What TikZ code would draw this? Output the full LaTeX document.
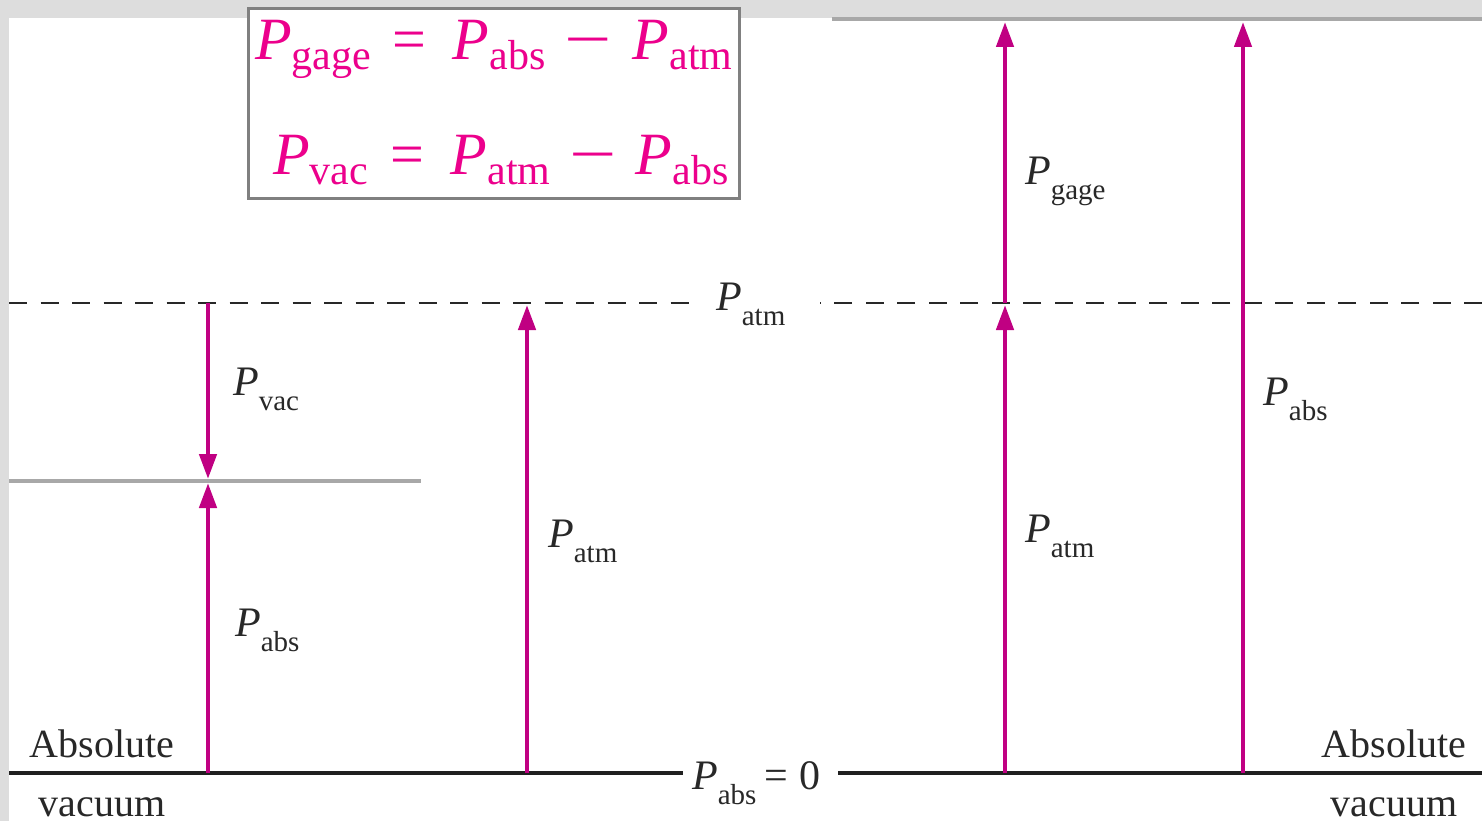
\documentclass[tikz,border=0pt]{standalone}
\usepackage{fontspec}
\setmainfont{LiberationSerif}[Extension=.ttf, UprightFont=*-Regular, ItalicFont=*-Italic, BoldFont=*-Bold, BoldItalicFont=*-BoldItalic]
\usetikzlibrary{arrows.meta}
\definecolor{arrowc}{RGB}{192,0,130}
\definecolor{pinkc}{RGB}{236,0,140}
\definecolor{bgc}{RGB}{221,221,221}
\definecolor{txtc}{RGB}{40,40,40}
\definecolor{boxc}{RGB}{128,128,128}
\definecolor{lvlc}{RGB}{168,168,168}
\newcommand{\labP}[1]{\fontsize{42}{42}\selectfont\textit{P}\raisebox{-15pt}{\fontsize{29}{29}\selectfont #1}}
\newcommand{\eqP}[1]{\textit{P}\raisebox{-10pt}{\fontsize{42}{42}\selectfont #1}}
\newcommand{\lminus}{\scalebox{1.4}[1]{−}}
\tikzset{
  parrow/.style={arrowc, line width=4.5pt, -{Triangle[length=25pt,width=17pt]}},
  lbl/.style={anchor=base west, inner sep=0pt, text=txtc},
  eqrow/.style={anchor=base west, inner sep=0pt, text=pinkc, font=\fontsize{60}{60}\selectfont},
  word/.style={anchor=base, inner sep=0pt, text=txtc, font=\fontsize{40}{40}\selectfont},
}
\begin{document}
\begin{tikzpicture}[x=1pt,y=-1pt]
\fill[bgc] (0,0) rectangle (1482,821);
\fill[white] (9,18) rectangle (1482,821);
\useasboundingbox (0,0) rectangle (1482,821);

% equation box
\node (eqbox) [draw=boxc, line width=3pt, fill=white, minimum width=491pt, minimum height=190pt, anchor=north west, inner sep=0pt] at (247,7) {};
\node (eq1) [eqrow] at (255,60) {\eqP{gage}\hspace{21pt}=\hspace{27pt}\eqP{abs}\hspace{19pt}\lminus\hspace{21pt}\eqP{atm}};
\node (eq2) [eqrow] at (273,175) {\eqP{vac}\hspace{22pt}=\hspace{27pt}\eqP{atm}\hspace{19pt}\lminus\hspace{19pt}\eqP{abs}};

% level lines
\coordinate (topL) at (832,19.5);
\coordinate (topR) at (1482,19.5);
\draw[lvlc, line width=4pt] (topL) -- (topR);
\coordinate (midL) at (9,481);
\coordinate (midR) at (421,481);
\draw[lvlc, line width=4pt] (midL) -- (midR);
\coordinate (atmA) at (9,303);
\coordinate (atmB) at (695,303);
\coordinate (atmC) at (820,303);
\coordinate (atmD) at (1482,303);
\draw[txtc, line width=2.5pt, dash pattern=on 18pt off 13.5pt] (atmA) -- (atmB);
\draw[txtc, line width=2.5pt, dash pattern=on 18pt off 13.5pt] (atmD) -- (atmC);
\coordinate (baseA) at (9,773);
\coordinate (baseB) at (683,773);
\coordinate (baseC) at (838,773);
\coordinate (baseD) at (1482,773);
\draw[txtc!80!black, line width=4.5pt] (baseA) -- (baseB);
\draw[txtc!80!black, line width=4.5pt] (baseC) -- (baseD);

% arrows
\coordinate (a1s) at (208,303);
\coordinate (a1e) at (208,479);
\coordinate (a2s) at (208,773);
\coordinate (a2e) at (208,483);
\coordinate (a3s) at (527,773);
\coordinate (a3e) at (527,305);
\coordinate (a4s) at (1005,773);
\coordinate (a4e) at (1005,305);
\coordinate (a5s) at (1005,303);
\coordinate (a5e) at (1005,22);
\coordinate (a6s) at (1243,773);
\coordinate (a6e) at (1243,22);
\draw[parrow] (a1s) -- (a1e);
\draw[parrow] (a2s) -- (a2e);
\draw[parrow] (a3s) -- (a3e);
\draw[parrow] (a4s) -- (a4e);
\draw[parrow] (a5s) -- (a5e);
\draw[parrow] (a6s) -- (a6e);

% labels
\node (lvac) [lbl] at (233,395) {\labP{vac}};
\node (labsL) [lbl] at (235,636) {\labP{abs}};
\node (latmM) [lbl] at (548,547) {\labP{atm}};
\node (latmD) [lbl] at (716,310) {\labP{atm}};
\node (lgage) [lbl] at (1025,185) {\labP{gage}};
\node (latmR) [lbl] at (1025,542) {\labP{atm}};
\node (labsR) [lbl] at (1263,405) {\labP{abs}};
\node (lzero) [lbl] at (692,789) {\labP{abs}\hspace{8pt}=\hspace{11pt}0};

\node (absL) [word] at (102,757) {Absolute};
\node (vacL) [word] at (102,816) {vacuum};
\node (absR) [word] at (1394,757) {Absolute};
\node (vacR) [word] at (1394,816) {vacuum};
\end{tikzpicture}
\end{document}
